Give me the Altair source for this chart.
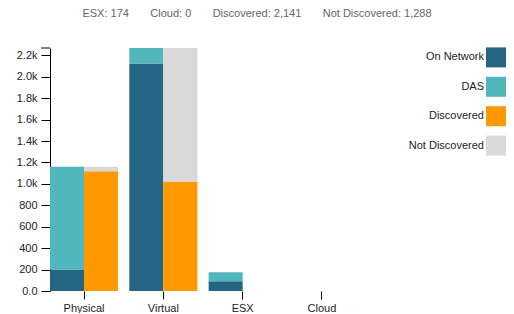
import altair as alt
import pandas as pd

categories = ["Physical", "Virtual", "ESX", "Cloud"]
on_network = [200, 2125, 91, 0]
das = [960, 144, 83, 0]
discovered = [1118, 1023, 0, 0]
not_discovered = [42, 1246, 0, 0]

series_names = ["On Network", "DAS", "Discovered", "Not Discovered"]
series_colors = ["#236582", "#52b7bd", "#ff9900", "#d9d9d9"]
y_ticks = [0, 200, 400, 600, 800, 1000, 1200, 1400, 1600, 1800, 2000, 2200]
summary_items = ["ESX: 174", "Cloud: 0", "Discovered: 2,141", "Not Discovered: 1,288"]

FONT = "Arial, Liberation Sans, sans-serif"

rows = []
for i, c in enumerate(categories):
    rows.append(dict(category=c, group="network", series="On Network", order=0, value=on_network[i]))
    rows.append(dict(category=c, group="network", series="DAS", order=1, value=das[i]))
    rows.append(dict(category=c, group="discovery", series="Discovered", order=0, value=discovered[i]))
    rows.append(dict(category=c, group="discovery", series="Not Discovered", order=1, value=not_discovered[i]))
df = pd.DataFrame(rows)

color_scale = alt.Scale(domain=series_names, range=series_colors)

bars = alt.Chart(df).mark_bar().encode(
    x=alt.X(
        "category:N", sort=categories, title=None,
        scale=alt.Scale(paddingInner=0.142, paddingOuter=0),
        axis=alt.Axis(labelAngle=0, domain=False, tickSize=8, tickColor="#000",
                      labelPadding=3, labelFontSize=11, labelColor="#222"),
    ),
    xOffset=alt.XOffset("group:N", sort=["network", "discovery"],
                        scale=alt.Scale(paddingInner=0, paddingOuter=0)),
    y=alt.Y(
        "value:Q", stack="zero", title=None, scale=alt.Scale(nice=False),
        axis=alt.Axis(values=y_ticks, format=".2s", tickSize=9, labelPadding=4,
                      domainColor="#000", tickColor="#000", labelFontSize=11,
                      labelColor="#222", minExtent=42, maxExtent=42),
    ),
    color=alt.Color("series:N", scale=color_scale, legend=None),
    order=alt.Order("order:Q"),
)

cap = alt.Chart(pd.DataFrame({"a": [0]})).mark_rule(color="#000").encode(
    x=alt.value(-9), x2=alt.value(0), y=alt.value(0)
)

main = (bars + cap).properties(width=306, height=243)

leg_df = pd.DataFrame({"series": series_names})
leg_y = alt.Y("series:N", sort=series_names, axis=None,
              scale=alt.Scale(type="point", padding=0.32))
legend_sym = alt.Chart(leg_df).mark_square(size=400, opacity=1).encode(
    y=leg_y, x=alt.value(140),
    color=alt.Color("series:N", scale=color_scale, legend=None),
)
legend_txt = alt.Chart(leg_df).mark_text(align="right", baseline="middle", fontSize=11,
                                         color="#222", font=FONT).encode(
    y=leg_y, x=alt.value(128), text="series:N"
)
legend = (legend_sym + legend_txt).properties(width=150, height=107)

title_str = ("\u00a0" * 7).join(summary_items)

chart = alt.hconcat(main, legend, spacing=0).properties(
    title=alt.TitleParams(text=title_str, anchor="middle", fontSize=11, fontWeight="normal",
                          color="#666", font=FONT, offset=28),
    padding={"left": 0, "top": 0, "right": 0, "bottom": 0},
).configure_view(stroke=None).configure_axis(
    grid=False, labelFont=FONT
)

chart.save("out.html", embed_options={"renderer": "svg", "actions": False})
